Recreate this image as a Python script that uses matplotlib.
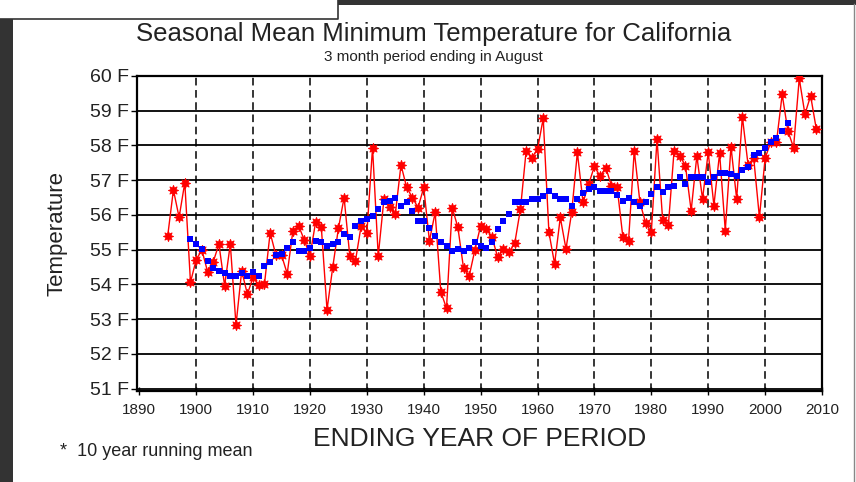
import matplotlib
matplotlib.use("Agg")
import matplotlib.pyplot as plt
from matplotlib.patches import Rectangle
from matplotlib.lines import Line2D

# seasonal (Jun-Aug) mean minimum temperature, deg F
years = list(range(1895, 2010))
temps = [
    55.40, 56.72, 55.93, 56.93, 54.06, 54.71, 54.99, 54.37, 54.65, 55.16,  # 1895-1904
    53.96, 55.16, 52.83, 54.39, 53.72, 54.20, 53.98, 54.00, 55.49, 54.85,  # 1905-1914
    54.84, 54.31, 55.54, 55.69, 55.28, 54.82, 55.80, 55.64, 53.27, 54.49,  # 1915-1924
    55.61, 56.50, 54.82, 54.68, 55.69, 55.47, 57.94, 54.82, 56.45, 56.24,  # 1925-1934
    56.02, 57.44, 56.79, 56.50, 56.21, 56.79, 55.25, 56.07, 53.79, 53.31,  # 1935-1944
    56.21, 55.64, 54.46, 54.25, 55.00, 55.69, 55.60, 55.36, 54.78, 55.02,  # 1945-1954
    54.93, 55.19, 56.17, 57.85, 57.65, 57.89, 58.78, 55.50, 54.59, 55.93,  # 1955-1964
    55.02, 56.07, 57.80, 56.36, 56.89, 57.40, 57.11, 57.36, 56.84, 56.79,  # 1965-1974
    55.36, 55.26, 57.85, 56.36, 55.77, 55.50, 58.18, 55.84, 55.71, 57.85,  # 1975-1984
    57.70, 57.42, 56.12, 57.70, 56.46, 57.80, 56.27, 57.78, 55.55, 57.97,  # 1985-1994
    56.46, 58.83, 57.45, 57.63, 55.93, 57.63, 58.10, 58.10, 59.47, 58.42,  # 1995-2004
    57.94, 59.93, 58.90, 59.43, 58.47,                                      # 2005-2009
]

# 10 year running mean
mean_years = list(range(1899, 2005))
mean_temps = [
    55.30, 55.16, 55.01, 54.68, 54.46, 54.39, 54.34, 54.25, 54.25, 54.32,  # 1899-1908
    54.25, 54.36, 54.25, 54.53, 54.63, 54.84, 54.87, 55.06, 55.21, 54.97,  # 1909-1918
    54.97, 55.06, 55.25, 55.21, 55.11, 55.16, 55.21, 55.45, 55.35, 55.69,  # 1919-1928
    55.83, 55.88, 55.97, 56.16, 56.36, 56.39, 56.50, 56.26, 56.36, 56.12,  # 1929-1938
    55.83, 55.83, 55.62, 55.40, 55.21, 55.11, 54.97, 55.01, 54.97, 55.06,  # 1939-1948
    55.21, 55.11, 55.06, 55.21, 55.59, 55.83, 56.02, 56.36, 56.36, 56.36,  # 1949-1958
    56.45, 56.47, 56.55, 56.69, 56.55, 56.45, 56.45, 56.26, 56.45, 56.64,  # 1959-1968
    56.76, 56.79, 56.69, 56.69, 56.69, 56.57, 56.40, 56.50, 56.36, 56.26,  # 1969-1978
    56.36, 56.60, 56.79, 56.65, 56.79, 56.84, 57.08, 56.89, 57.08, 57.08,  # 1979-1988
    57.08, 56.94, 57.08, 57.22, 57.22, 57.18, 57.13, 57.30, 57.37, 57.72,  # 1989-1998
    57.78, 57.94, 58.09, 58.21, 58.42, 58.64,                              # 1999-2004
]

temp_ticks = list(range(51, 61))
temp_labels = [f"{t} F" for t in temp_ticks]
year_ticks = list(range(1890, 2011, 10))

plt.rcParams["font.family"] = ["Liberation Sans", "DejaVu Sans"]

fig = plt.figure(figsize=(8.56, 4.82), dpi=100)
fig.patch.set_facecolor("white")

# screenshot frame around the chart
dark = "#333333"
fig.patches.append(Rectangle((0, 0), 12.7 / 856, 1 - 19 / 482, transform=fig.transFigure,
                             facecolor=dark, edgecolor="none", zorder=0))
fig.patches.append(Rectangle((338 / 856, 1 - 4.5 / 482), 1, 4.5 / 482, transform=fig.transFigure,
                             facecolor=dark, edgecolor="none", zorder=0))
fig.lines.append(Line2D([0, 338 / 856, 338 / 856], [1 - 18.5 / 482, 1 - 18.5 / 482, 1],
                        transform=fig.transFigure, color=dark, lw=1.2))
fig.lines.append(Line2D([854 / 856, 854 / 856], [0, 1 - 4 / 482], transform=fig.transFigure,
                        color="#888888", lw=1.0))

ax = fig.add_axes([137 / 856, 1 - 391 / 482, (822 - 137) / 856, (391 - 76) / 482])

ax.plot(years, temps, color="red", lw=1.0, marker=(8, 1, 0), markersize=7.5,
        markeredgewidth=0.6, zorder=3)
ax.plot(mean_years, mean_temps, linestyle="none", marker="s", markersize=4.6,
        color="blue", markeredgewidth=0, zorder=4)

ax.set_xlim(1889.6, 2010)
ax.set_ylim(50.93, 60)
ax.set_xticks(year_ticks)
ax.set_xticklabels([str(y) for y in year_ticks], fontsize=11, color="#222222")
ax.set_yticks(temp_ticks)
ax.set_yticklabels(temp_labels, fontsize=14, color="#222222")

for t in temp_ticks:
    ax.axhline(t, color="black", lw=1.3, zorder=1)
for y in year_ticks[1:-1]:
    ax.axvline(y, color="black", lw=1.1, linestyle=(0, (5, 3)), zorder=1)

for side in ax.spines.values():
    side.set_linewidth(1.6)
ax.tick_params(axis="y", direction="out", length=4, width=1, pad=2)
ax.tick_params(axis="x", direction="inout", length=6, width=1, pad=6)

ax.set_ylabel("Temperature", fontsize=16, labelpad=16, color="#222222")
ax.set_xlabel("ENDING YEAR OF PERIOD", fontsize=19, labelpad=7, color="#222222")

fig.text(0.507, 1 - 34 / 482, "Seasonal Mean Minimum Temperature for California",
         ha="center", va="center", fontsize=18.5, color="#222222")
fig.text(0.506, 1 - 56.5 / 482, "3 month period ending in August",
         ha="center", va="center", fontsize=11, color="#222222")
fig.text(60 / 856, 1 - 451 / 482, "*  10 year running mean",
         ha="left", va="center", fontsize=13, color="#222222")

fig.savefig("out.png", dpi=100)
